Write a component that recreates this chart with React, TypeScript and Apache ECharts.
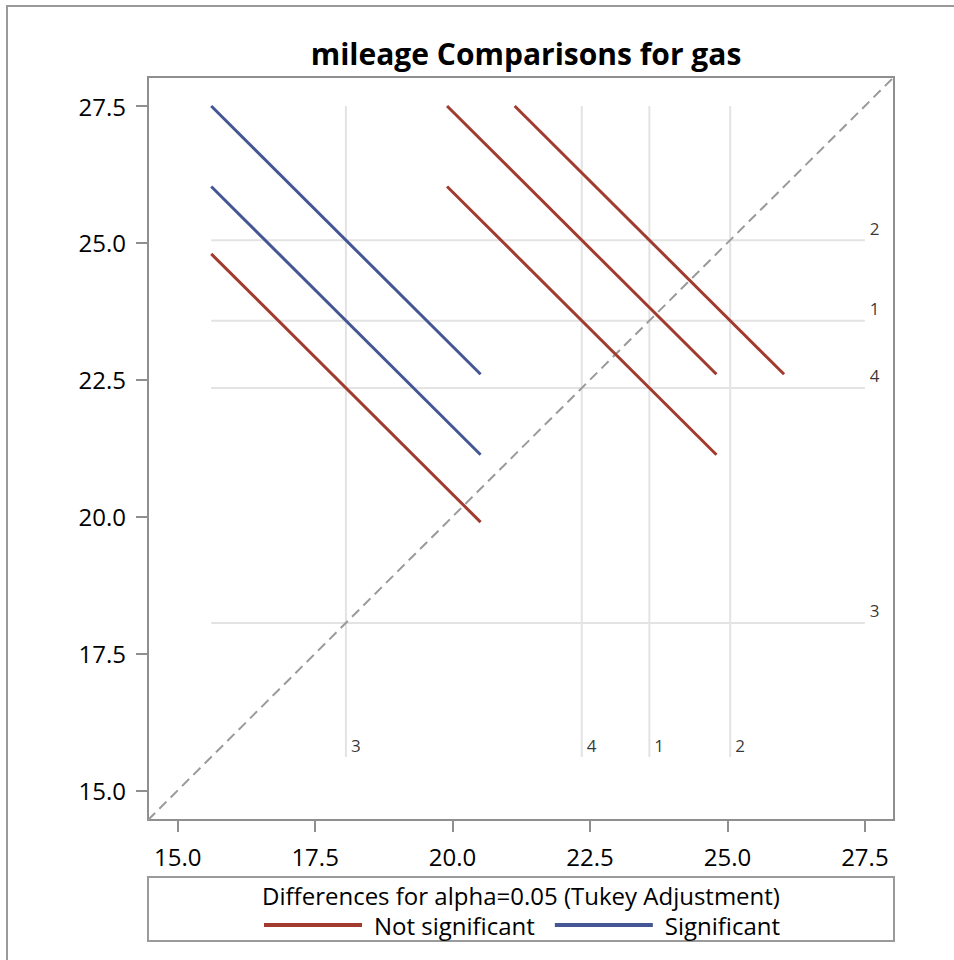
import React, { useEffect, useRef } from "react";
import * as echarts from "echarts";

// ---- data ----
const AXIS_MIN = 14.46;
const AXIS_MAX = 28.03;
const tickValues = [15, 17.5, 20, 22.5, 25, 27.5];

const groupLabels = ["1", "2", "3", "4"];
const groupMeans = [23.58, 25.05, 18.06, 22.35];
const refLow = 15.61;
const refHigh = 27.5;

// diffogram segments (start / end points)
const segStartX = [15.61, 15.61, 15.61, 19.9, 19.9, 21.13];
const segStartY = [27.5, 26.03, 24.8, 27.5, 26.03, 27.5];
const segEndX = [20.51, 20.51, 20.51, 24.8, 24.8, 26.03];
const segEndY = [22.6, 21.13, 19.9, 22.6, 21.13, 22.6];
const segSignificant = [true, true, false, false, false, false];

const diagonal = [AXIS_MIN, AXIS_MAX];

const titleText = "mileage Comparisons for gas";
const legendTitle = "Differences for alpha=0.05 (Tukey Adjustment)";
const nsName = "Not significant";
const sigName = "Significant";

const RED = "#a23b2f";
const BLUE = "#445694";
const FONT = "'Open Sans', 'Noto Sans', sans-serif";

export default function App() {
  const ref = useRef<HTMLDivElement>(null);

  useEffect(() => {
    if (!ref.current) return;
    const chart = echarts.init(ref.current, null, { renderer: "svg" });

    const refSeries: any[] = [];
    groupMeans.forEach((m) => {
      refSeries.push({
        type: "line",
        data: [[m, refHigh], [m, refLow]],
        showSymbol: false,
        silent: true,
        z: 1,
        lineStyle: { color: "#e3e3e3", width: 2 },
      });
      refSeries.push({
        type: "line",
        data: [[refLow, m], [refHigh, m]],
        showSymbol: false,
        silent: true,
        z: 1,
        lineStyle: { color: "#e3e3e3", width: 2 },
      });
    });

    const labelData: any[] = [];
    groupMeans.forEach((m, i) => {
      labelData.push({ value: [m, refLow], name: groupLabels[i] });
      labelData.push({ value: [refHigh, m], name: groupLabels[i] });
    });

    const segSeries = segStartX.map((_, i) => ({
      type: "line",
      name: segSignificant[i] ? sigName : nsName,
      data: [
        [segStartX[i], segStartY[i]],
        [segEndX[i], segEndY[i]],
      ],
      showSymbol: false,
      silent: true,
      z: 4,
      color: segSignificant[i] ? BLUE : RED,
      lineStyle: { color: segSignificant[i] ? BLUE : RED, width: 3 },
    }));

    const axisCommon = {
      type: "value",
      min: AXIS_MIN,
      max: AXIS_MAX,
      splitLine: { show: false },
      axisLine: { show: false },
      axisTick: {
        show: true,
        length: 12,
        customValues: tickValues,
        lineStyle: { color: "#8f8f8f", width: 2 },
      },
    };
    const labelCommon = {
      customValues: tickValues,
      formatter: (v: number) => v.toFixed(1),
      color: "#000",
      fontFamily: FONT,
      fontSize: 24,
    };

    chart.setOption({
      animation: false,
      grid: {
        left: 148,
        top: 77,
        width: 746,
        height: 743,
        show: true,
        borderColor: "#8f8f8f",
        borderWidth: 2,
        backgroundColor: "transparent",
      },
      xAxis: { ...axisCommon, axisLabel: { ...labelCommon, margin: 24 } },
      yAxis: { ...axisCommon, axisLabel: { ...labelCommon, margin: 22 } },
      legend: {
        left: 259,
        top: 908,
        icon: "rect",
        itemWidth: 98,
        itemHeight: 4,
        itemGap: 20,
        data: [nsName, sigName],
        textStyle: {
          fontFamily: FONT,
          fontSize: 24,
          color: "#000",
          padding: [0, 0, 0, 7],
        },
        selectedMode: false,
        z: 20,
      },
      graphic: [
        {
          type: "rect",
          shape: { x: 7, y: 6, width: 980, height: 990 },
          style: { fill: "none", stroke: "#9a9a9a", lineWidth: 2 },
          silent: true,
          z: 0,
        },
        {
          type: "text",
          x: 526,
          y: 53,
          style: {
            text: titleText,
            fontFamily: FONT,
            fontSize: 30,
            fontWeight: "bold",
            fill: "#000",
            textAlign: "center",
            textVerticalAlign: "middle",
          },
          silent: true,
        },
        {
          type: "rect",
          shape: { x: 148, y: 877, width: 746, height: 64 },
          style: { fill: "#fff", stroke: "#9a9a9a", lineWidth: 2 },
          silent: true,
          z: 10,
        },
        {
          type: "text",
          x: 521,
          y: 895,
          style: {
            text: legendTitle,
            fontFamily: FONT,
            fontSize: 24,
            fill: "#000",
            textAlign: "center",
            textVerticalAlign: "middle",
          },
          silent: true,
          z: 11,
        },
      ],
      series: [
        ...refSeries,
        {
          type: "line",
          data: [
            [diagonal[0], diagonal[0]],
            [diagonal[1], diagonal[1]],
          ],
          showSymbol: false,
          silent: true,
          z: 2,
          lineStyle: { color: "#9a9a9a", width: 2, type: [10, 6] },
        },
        {
          type: "scatter",
          data: labelData,
          symbolSize: 0,
          silent: true,
          z: 3,
          label: {
            show: true,
            position: "right",
            distance: 5,
            offset: [0, -12],
            formatter: (p: any) => p.name,
            fontFamily: FONT,
            fontSize: 17,
            color: "#000",
          },
        },
        ...segSeries,
      ],
    });

    return () => chart.dispose();
  }, []);

  return (
    <div
      ref={ref}
      style={{ position: "absolute", left: 0, top: 0, width: 954, height: 960 }}
    />
  );
}
